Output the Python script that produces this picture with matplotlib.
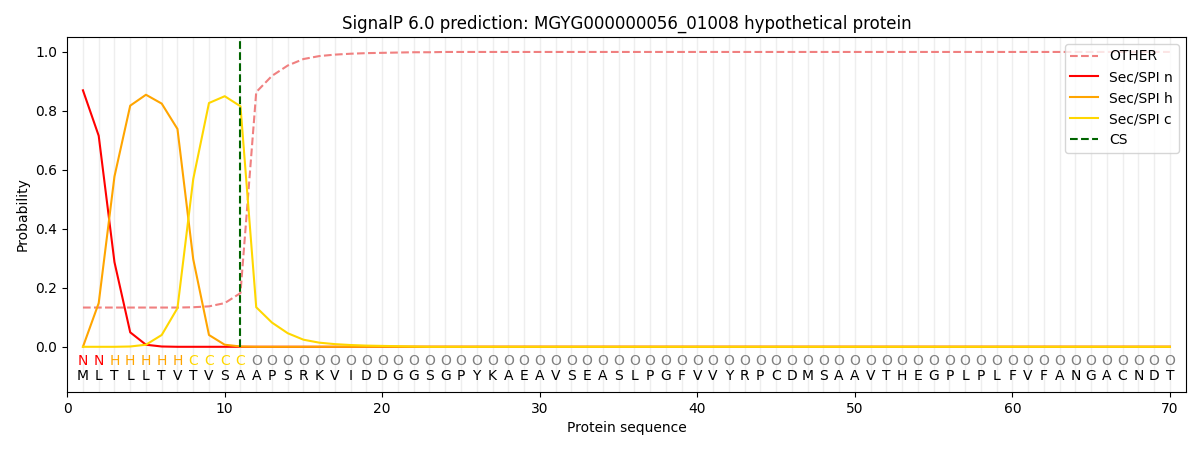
import numpy as np
import matplotlib
matplotlib.use('Agg')
import matplotlib.pyplot as plt

title = "SignalP 6.0 prediction: MGYG000000056_01008 hypothetical protein"

sequence = list("MLTLLTVTVSAAPSRKVIDDGGSGPYKAEAVSEASLPGFVVYRPCDMSAAVTHEGPLPLFVFANGACNDT")
labels = list("NNHHHHHCCCC") + ["O"] * 59

other = [0.133, 0.133, 0.133, 0.133, 0.133, 0.133, 0.133, 0.134, 0.137, 0.148,
         0.182, 0.863, 0.918, 0.953, 0.975, 0.985, 0.990, 0.993, 0.995, 0.996,
         0.997, 0.998, 0.998, 0.999, 0.999] + [0.999] * 45
sp_n = [0.869, 0.715, 0.287, 0.049, 0.007, 0.001] + [0.0] * 64
sp_h = [0.0, 0.148, 0.577, 0.817, 0.854, 0.824, 0.738, 0.297, 0.040, 0.007,
        0.001] + [0.0] * 59
sp_c = [0.0, 0.0, 0.0, 0.001, 0.007, 0.040, 0.131, 0.568, 0.826, 0.849,
        0.815, 0.134, 0.082, 0.046, 0.024, 0.014, 0.009, 0.006, 0.004, 0.003,
        0.002, 0.001] + [0.0] * 48
cs_pos = 11

label_colors = {"N": "red", "H": "orange", "C": "gold", "O": "grey"}

pos = np.arange(1, len(sequence) + 1)

fig, ax = plt.subplots(figsize=(12, 4.5), dpi=100)

for p in pos:
    ax.axvline(p, color="#eeeeee", lw=1, zorder=0)

ax.plot(pos, other, color="lightcoral", ls="--", label="OTHER")
ax.plot(pos, sp_n, color="red", label="Sec/SPI n")
ax.plot(pos, sp_h, color="orange", label="Sec/SPI h")
ax.plot(pos, sp_c, color="gold", label="Sec/SPI c")
ax.plot([cs_pos, cs_pos], [0, 1.04], color="darkgreen", ls="--", label="CS")

for p, aa, lab in zip(pos, sequence, labels):
    ax.text(p, -0.047, lab, color=label_colors[lab], ha="center", va="center", fontsize=10)
    ax.text(p, -0.10, aa, color="black", ha="center", va="center", fontsize=10)

ax.set_xlim(0, 71)
ax.set_ylim(-0.153, 1.05)
ax.set_xlabel("Protein sequence")
ax.set_ylabel("Probability")
ax.set_title(title)
ax.legend(loc="upper right")

plt.subplots_adjust(left=0.056, right=0.988, top=0.918, bottom=0.129)
plt.savefig("out.png")
